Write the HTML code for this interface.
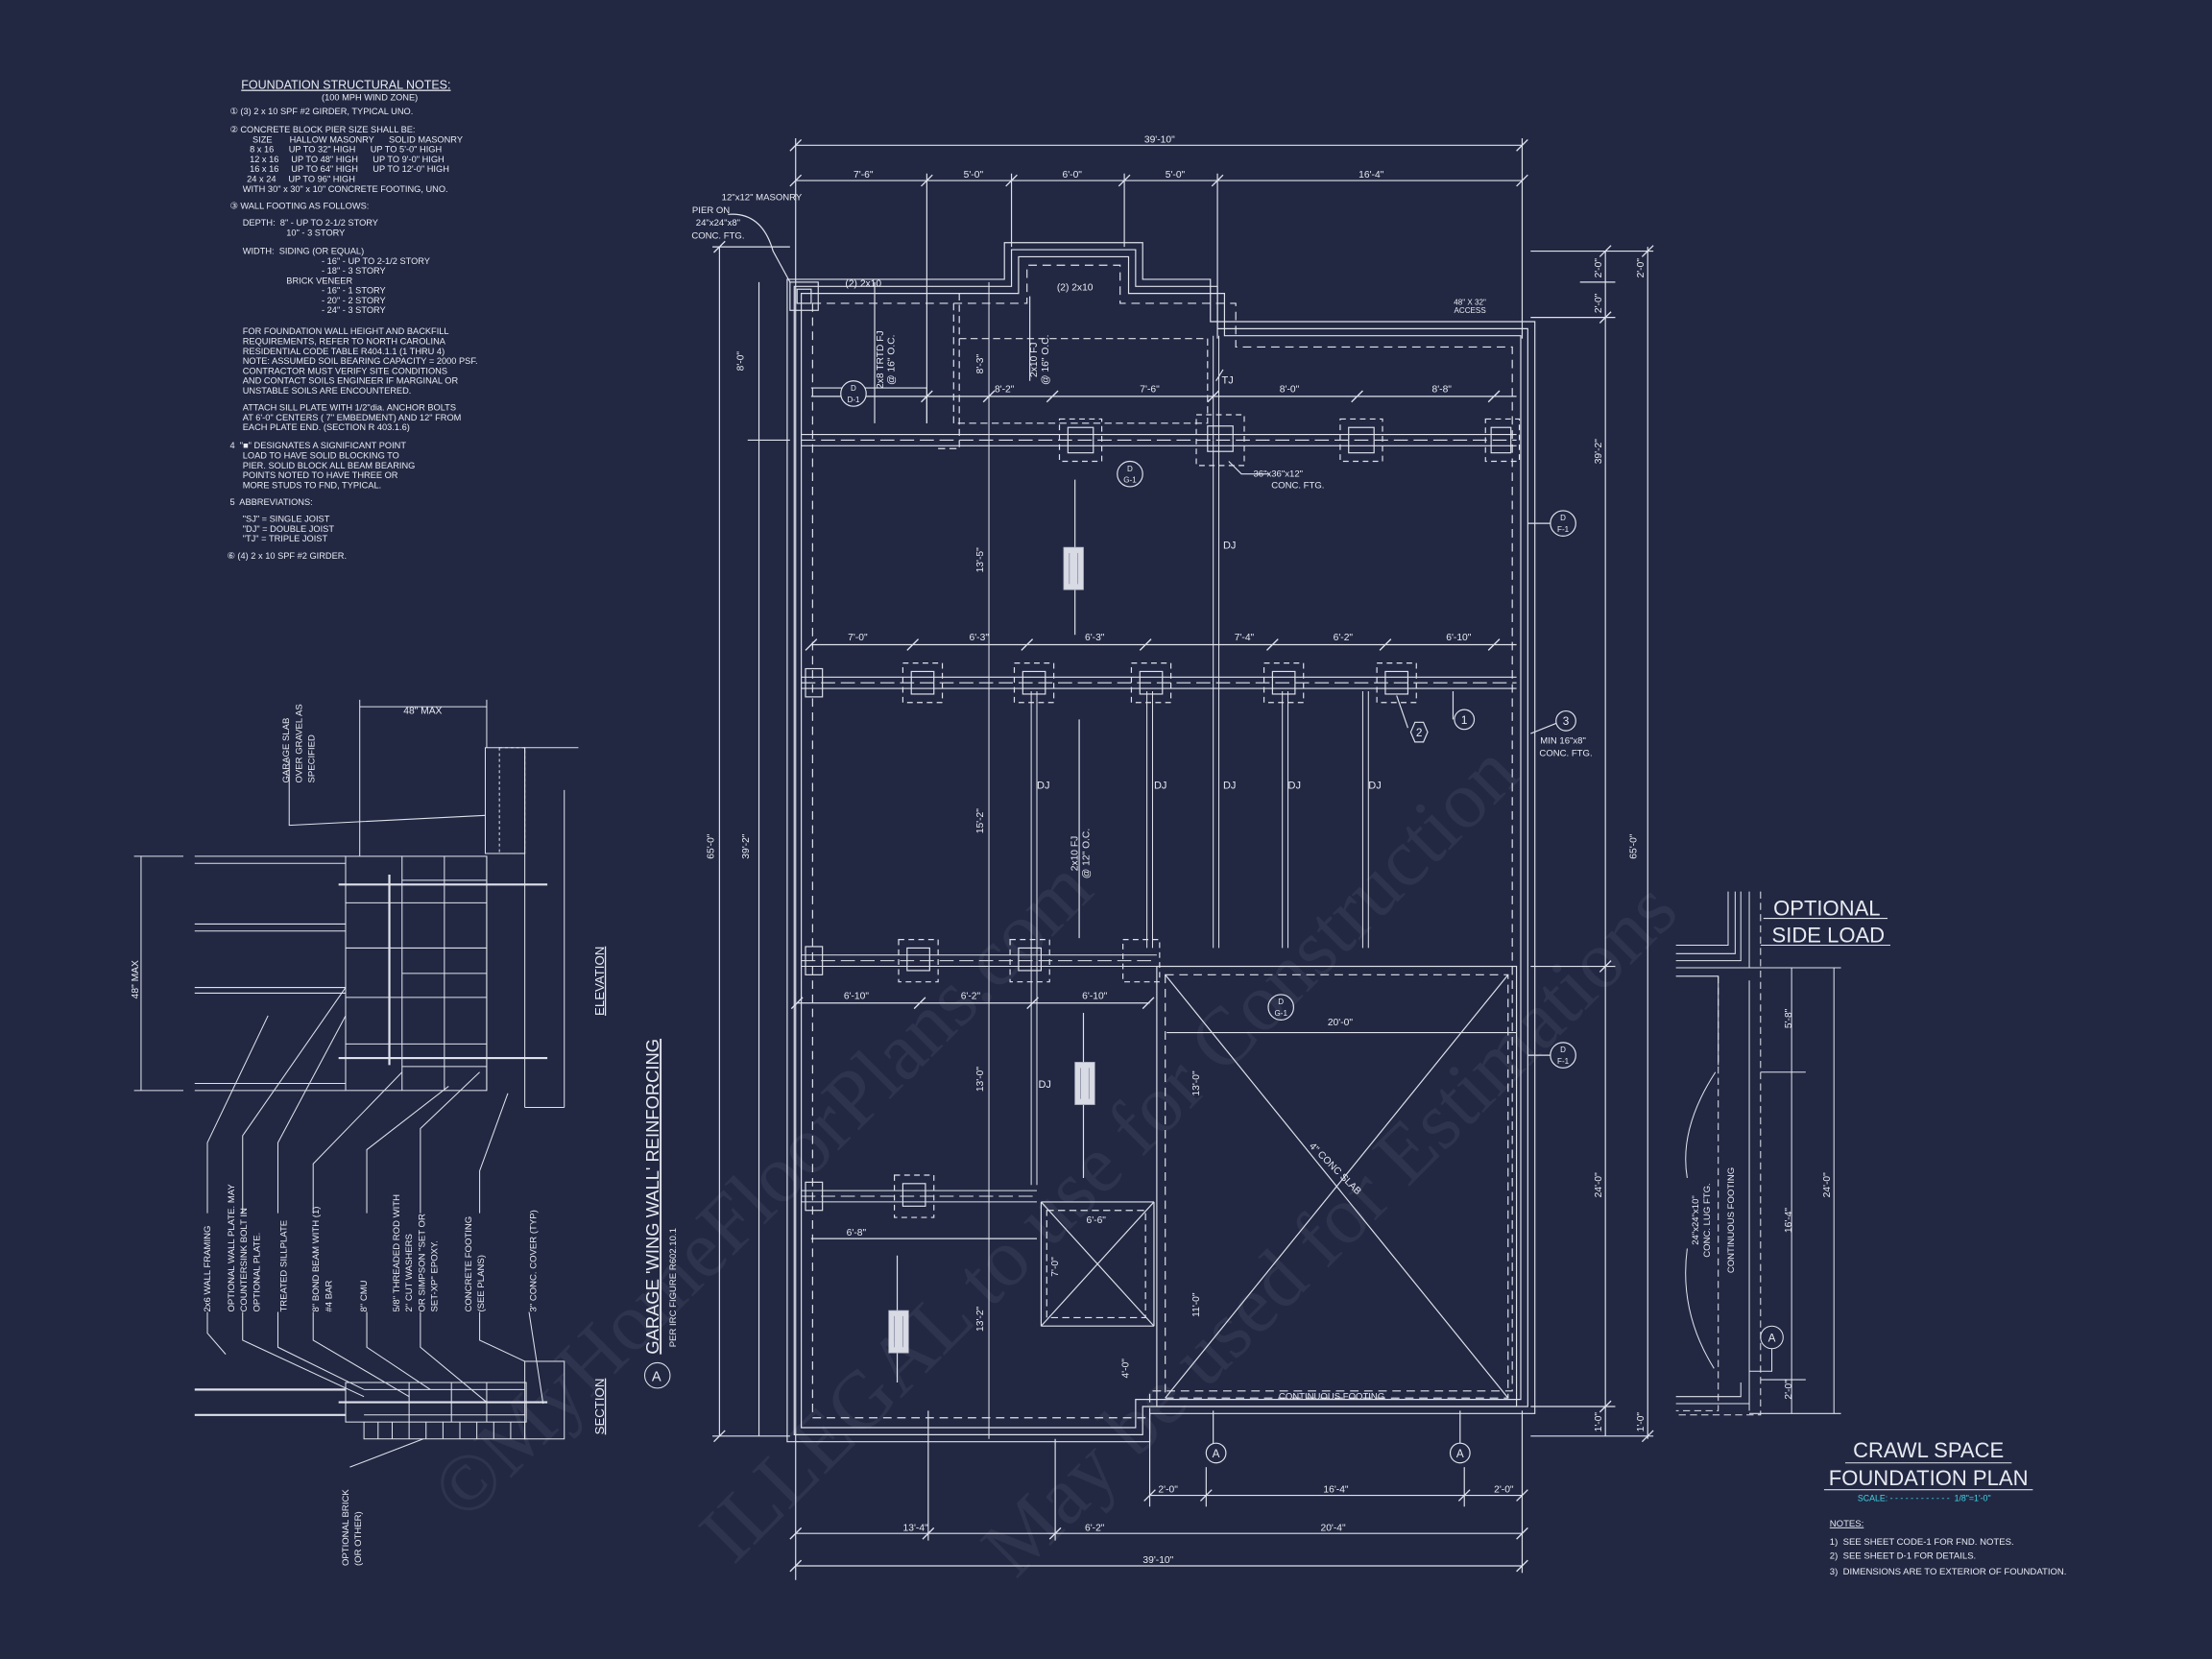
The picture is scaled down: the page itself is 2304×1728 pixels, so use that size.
<!DOCTYPE html>
<html><head><meta charset="utf-8"><style>
html,body{margin:0;padding:0;background:#222842;}
svg{display:block}
text{font-family:"Liberation Sans",sans-serif;fill:#e8eaf2;white-space:pre;}
</style></head><body>
<svg width="2304" height="1728" viewBox="0 0 1568 1176" xmlns="http://www.w3.org/2000/svg">
<rect width="1568" height="1176" fill="#222842"/>
<g stroke="#dfe2ec" fill="none" stroke-width="0.8">
<line x1="564" y1="103" x2="1079" y2="103"/>
<line x1="564" y1="98" x2="564" y2="1120"/><line x1="1079" y1="98" x2="1079" y2="240"/>
<line x1="564" y1="128" x2="1079" y2="128"/>
<line x1="657" y1="123" x2="657" y2="300"/><line x1="717" y1="123" x2="717" y2="175"/><line x1="797" y1="123" x2="797" y2="175"/><line x1="863" y1="123" x2="863" y2="240"/>
<line x1="1085" y1="178" x2="1172" y2="178"/><line x1="1138" y1="178" x2="1138" y2="1018"/><line x1="1168" y1="175" x2="1168" y2="1020"/>
<line x1="1120" y1="200" x2="1145" y2="200"/><line x1="1085" y1="225" x2="1145" y2="225"/><line x1="1085" y1="685" x2="1145" y2="685"/><line x1="1085" y1="997" x2="1145" y2="997"/><line x1="1085" y1="1018" x2="1172" y2="1018"/>
<line x1="510" y1="175" x2="510" y2="1018"/><line x1="538" y1="200" x2="538" y2="1018"/>
<line x1="505" y1="175" x2="560" y2="175"/><line x1="505" y1="1018" x2="560" y2="1018"/><line x1="530" y1="312" x2="560" y2="312"/>
<line x1="815" y1="1060" x2="1079" y2="1060"/><line x1="564" y1="1087" x2="1079" y2="1087"/><line x1="564" y1="1110" x2="1079" y2="1110"/>
<line x1="815" y1="1000" x2="815" y2="1068"/><line x1="855" y1="1040" x2="855" y2="1068"/><line x1="1038" y1="1040" x2="1038" y2="1068"/><line x1="1079" y1="1000" x2="1079" y2="1115"/>
<line x1="748" y1="1020" x2="748" y2="1092"/><line x1="658" y1="1000" x2="658" y2="1092"/>
<path d="M558 198 H712 V172 H810 V198 H858 V228 H1088 V1002 H815 V1022 H558 Z"/>
<path d="M563 203 H717 V177 H805 V203 H863 V233 H1083 V997 H810 V1017 H563 Z"/>
<path d="M568 208 H722 V182 H800 V208 H868 V238 H1078 V992 H805 V1012 H568 Z"/>
<path d="M576 215 H728 V188 H794 V215 H876 V246 H1072 V986 H815 V1005 H576 Z" stroke-dasharray="6 4"/>
<path d="M657 300 V275 H575" /><path d="M665 318 H680 V208" stroke-dasharray="5 3"/>
<path d="M676 215 V300 H856 V240 M680 240 H855" stroke-dasharray="5 3"/>
<rect x="560" y="200" width="20" height="20"/><rect x="565" y="205" width="10" height="10"/>
<g stroke-width="0.7">
<line x1="568" y1="308" x2="1075" y2="308"/><line x1="568" y1="316" x2="1075" y2="316"/><line x1="568" y1="312" x2="1075" y2="312" stroke-dasharray="10 4"/>
<line x1="568" y1="480" x2="1075" y2="480"/><line x1="568" y1="488" x2="1075" y2="488"/><line x1="568" y1="484" x2="1075" y2="484" stroke-dasharray="10 4"/>
<line x1="568" y1="677" x2="820" y2="677"/><line x1="568" y1="685" x2="820" y2="685"/><line x1="568" y1="681" x2="820" y2="681" stroke-dasharray="10 4"/>
<line x1="568" y1="844" x2="735" y2="844"/><line x1="568" y1="852" x2="735" y2="852"/><line x1="568" y1="848" x2="735" y2="848" stroke-dasharray="10 4"/>
</g>
<g>
<rect x="751" y="297" width="30" height="30" stroke-dasharray="4 3"/><rect x="757" y="303" width="18" height="18"/>
<rect x="848" y="294" width="34" height="36" stroke-dasharray="4 3"/><rect x="856" y="302" width="18" height="18"/>
<rect x="950" y="297" width="30" height="30" stroke-dasharray="4 3"/><rect x="956" y="303" width="18" height="18"/>
<rect x="1053" y="297" width="24" height="30" stroke-dasharray="4 3"/><rect x="1057" y="303" width="14" height="18"/>
<rect x="640" y="470" width="28" height="28" stroke-dasharray="4 3"/><rect x="646" y="476" width="16" height="16"/>
<rect x="719" y="470" width="28" height="28" stroke-dasharray="4 3"/><rect x="725" y="476" width="16" height="16"/>
<rect x="802" y="470" width="28" height="28" stroke-dasharray="4 3"/><rect x="808" y="476" width="16" height="16"/>
<rect x="896" y="470" width="28" height="28" stroke-dasharray="4 3"/><rect x="902" y="476" width="16" height="16"/>
<rect x="976" y="470" width="28" height="28" stroke-dasharray="4 3"/><rect x="982" y="476" width="16" height="16"/>
<rect x="571" y="474" width="12" height="20"/>
<rect x="637" y="666" width="28" height="30" stroke-dasharray="4 3"/><rect x="643" y="672" width="16" height="16"/>
<rect x="716" y="666" width="28" height="30" stroke-dasharray="4 3"/><rect x="722" y="672" width="16" height="16"/>
<rect x="796" y="666" width="26" height="30" stroke-dasharray="4 3"/>
<rect x="634" y="833" width="28" height="30" stroke-dasharray="4 3"/><rect x="640" y="839" width="16" height="16"/>
<rect x="571" y="671" width="12" height="20"/><rect x="571" y="838" width="12" height="20"/>
</g>
<g stroke-width="0.7">
<line x1="860" y1="238" x2="860" y2="672"/><line x1="864" y1="238" x2="864" y2="672"/>
<line x1="731" y1="490" x2="731" y2="840"/><line x1="735" y1="490" x2="735" y2="840"/>
<line x1="813" y1="490" x2="813" y2="672"/><line x1="817" y1="490" x2="817" y2="672"/>
<line x1="909" y1="490" x2="909" y2="672"/><line x1="913" y1="490" x2="913" y2="672"/>
<line x1="966" y1="490" x2="966" y2="672"/><line x1="970" y1="490" x2="970" y2="672"/>
<line x1="701" y1="200" x2="701" y2="1020"/>
</g>
<line x1="575" y1="281" x2="1075" y2="281"/><line x1="575" y1="457" x2="1075" y2="457"/><line x1="565" y1="711" x2="815" y2="711"/><line x1="575" y1="878" x2="735" y2="878"/>
<line x1="827" y1="732" x2="1075" y2="732"/>
<line x1="762" y1="340" x2="762" y2="450"/><line x1="765" y1="510" x2="765" y2="665"/><line x1="768" y1="718" x2="768" y2="835"/><line x1="636" y1="890" x2="636" y2="980"/>
<line x1="620" y1="200" x2="620" y2="300"/><line x1="730" y1="210" x2="730" y2="270"/>
<rect x="820" y="685" width="255" height="312"/><rect x="826" y="691" width="243" height="300" stroke-dasharray="6 4"/>
<line x1="826" y1="691" x2="1069" y2="991"/><line x1="1069" y1="691" x2="826" y2="991"/>
<line x1="738" y1="852" x2="818" y2="852"/><line x1="738" y1="852" x2="738" y2="940"/><line x1="818" y1="852" x2="818" y2="940"/>
<line x1="738" y1="940" x2="818" y2="940"/><line x1="738" y1="852" x2="818" y2="940"/><line x1="818" y1="852" x2="738" y2="940"/>
<rect x="742" y="858" width="70" height="76" stroke-dasharray="5 3"/>
<path d="M516 152 Q540 150 548 178 L560 200"/>
<line x1="1083" y1="371" x2="1100" y2="371"/><line x1="1083" y1="748" x2="1100" y2="748"/>
<path d="M871 327 L880 336 H900"/><path d="M862 270 L867 262"/>
<path d="M1030 490 L1030 510"/><path d="M990 493 L998 516"/><path d="M1085 520 L1105 512"/>
<line x1="860" y1="1030" x2="860" y2="1000"/><line x1="1035" y1="1030" x2="1035" y2="1000"/>
</g>
<g stroke="#dfe2ec" stroke-width="0.9">
<path d="M560 107 l8 -8 M1075 107 l8 -8 M560 132 l8 -8 M653 132 l8 -8 M713 132 l8 -8 M793 132 l8 -8 M859 132 l8 -8 M1075 132 l8 -8"/>
<path d="M653 285 l8 -8 M697 285 l8 -8 M742 285 l8 -8 M856 285 l8 -8 M958 285 l8 -8 M1055 285 l8 -8"/>
<path d="M571 461 l8 -8 M643 461 l8 -8 M724 461 l8 -8 M808 461 l8 -8 M898 461 l8 -8 M978 461 l8 -8 M1055 461 l8 -8"/>
<path d="M561 715 l8 -8 M648 715 l8 -8 M728 715 l8 -8 M810 715 l8 -8"/>
<path d="M811 1064 l8 -8 M851 1064 l8 -8 M1034 1064 l8 -8 M1075 1064 l8 -8 M560 1091 l8 -8 M654 1091 l8 -8 M744 1091 l8 -8 M1075 1091 l8 -8 M560 1114 l8 -8 M1075 1114 l8 -8"/>
<path d="M506 179 l8 -8 M506 1022 l8 -8 M1134 182 l8 -8 M1164 182 l8 -8 M1134 229 l8 -8 M1134 689 l8 -8 M1134 1001 l8 -8 M1164 1022 l8 -8"/>
</g>
<g fill="#d8dae4" stroke="#b0b4c4" stroke-width="0.5">
<rect x="754" y="388" width="14" height="30"/><rect x="762" y="753" width="14" height="30"/><rect x="630" y="929" width="14" height="30"/>
</g>
<g stroke="#9094a8" stroke-width="0.6">
<line x1="758" y1="392" x2="758" y2="414"/><line x1="764" y1="392" x2="764" y2="414"/>
<line x1="766" y1="757" x2="766" y2="779"/><line x1="772" y1="757" x2="772" y2="779"/>
<line x1="634" y1="933" x2="634" y2="955"/><line x1="640" y1="933" x2="640" y2="955"/>
</g>
<g stroke="#dfe2ec" fill="#222842" stroke-width="0.8">
<circle cx="605" cy="279" r="9"/><circle cx="801" cy="336" r="9"/><circle cx="908" cy="714" r="9"/><circle cx="1108" cy="371" r="9"/><circle cx="1108" cy="748" r="9"/>
<circle cx="862" cy="1030" r="7"/><circle cx="1035" cy="1030" r="7"/>
<polygon points="1003,512 1009,512 1012,519 1009,526 1003,526 1000,519"/><circle cx="1038" cy="510" r="7"/><circle cx="1110" cy="511" r="7"/>
</g>
<g font-size="5.5" text-anchor="middle">
<text x="605" y="277">D</text><text x="605" y="285">D-1</text><text x="801" y="334">D</text><text x="801" y="342">G-1</text>
<text x="908" y="712">D</text><text x="908" y="720">G-1</text><text x="1108" y="369">D</text><text x="1108" y="377">F-1</text>
<text x="1108" y="746">D</text><text x="1108" y="754">F-1</text></g>
<g font-size="8" text-anchor="middle">
<text x="862" y="1033">A</text><text x="1035" y="1033">A</text><text x="1006" y="522">2</text><text x="1038" y="513">1</text><text x="1110" y="514">3</text></g>
<g font-size="7" text-anchor="middle">
<text x="822" y="101">39'-10"</text>
<text x="612" y="126">7'-6"</text><text x="690" y="126">5'-0"</text><text x="760" y="126">6'-0"</text><text x="833" y="126">5'-0"</text><text x="972" y="126">16'-4"</text>
<text x="712" y="278">8'-2"</text><text x="815" y="278">7'-6"</text><text x="914" y="278">8'-0"</text><text x="1022" y="278">8'-8"</text>
<text x="608" y="454">7'-0"</text><text x="694" y="454">6'-3"</text><text x="776" y="454">6'-3"</text><text x="882" y="454">7'-4"</text><text x="952" y="454">6'-2"</text><text x="1034" y="454">6'-10"</text>
<text x="607" y="708">6'-10"</text><text x="688" y="708">6'-2"</text><text x="776" y="708">6'-10"</text><text x="607" y="876">6'-8"</text>
<text x="950" y="727">20'-0"</text><text x="777" y="867">6'-6"</text>
<text x="828" y="1058">2'-0"</text><text x="947" y="1058">16'-4"</text><text x="1066" y="1058">2'-0"</text>
<text x="649" y="1085">13'-4"</text><text x="776" y="1085">6'-2"</text><text x="945" y="1085">20'-4"</text><text x="821" y="1108">39'-10"</text>
<text x="612" y="203">(2) 2x10</text><text x="762" y="206">(2) 2x10</text>
<text x="1042" y="216" font-size="5.5">48" X 32"</text><text x="1042" y="222" font-size="5.5">ACCESS</text>
<text x="944" y="992" font-size="6.5">CONTINUOUS FOOTING</text>
<text x="906" y="338" font-size="6.5">36"x36"x12"</text><text x="920" y="346" font-size="6.5">CONC. FTG.</text>
<text x="540" y="142" font-size="6.5">12"x12" MASONRY</text><text x="504" y="151" font-size="6.5">PIER ON</text><text x="509" y="160" font-size="6.5">24"x24"x8"</text><text x="509" y="169" font-size="6.5">CONC. FTG.</text>
<text x="1108" y="527" font-size="6.5">MIN 16"x8"</text><text x="1110" y="536" font-size="6.5">CONC. FTG.</text>
</g>
<g font-size="7.5">
<text x="867" y="389">DJ</text><text x="735" y="559">DJ</text><text x="818" y="559">DJ</text><text x="867" y="559">DJ</text><text x="913" y="559">DJ</text><text x="970" y="559">DJ</text><text x="736" y="771">DJ</text><text x="866" y="272">TJ</text>
</g>
<g font-size="7" text-anchor="middle">
<text transform="translate(697,397) rotate(-90)">13'-5"</text><text transform="translate(697,582) rotate(-90)">15'-2"</text>
<text transform="translate(697,765) rotate(-90)">13'-0"</text><text transform="translate(697,935) rotate(-90)">13'-2"</text>
<text transform="translate(697,258) rotate(-90)">8'-3"</text><text transform="translate(527,256) rotate(-90)">8'-0"</text>
<text transform="translate(506,600) rotate(-90)">65'-0"</text><text transform="translate(531,600) rotate(-90)">39'-2"</text>
<text transform="translate(1135,320) rotate(-90)">39'-2"</text><text transform="translate(1160,600) rotate(-90)">65'-0"</text>
<text transform="translate(1135,190) rotate(-90)">2'-0"</text><text transform="translate(1135,215) rotate(-90)">2'-0"</text>
<text transform="translate(1135,840) rotate(-90)">24'-0"</text><text transform="translate(1135,1008) rotate(-90)">1'-0"</text>
<text transform="translate(1165,190) rotate(-90)">2'-0"</text><text transform="translate(1165,1008) rotate(-90)">1'-0"</text>
<text transform="translate(850,768) rotate(-90)">13'-0"</text><text transform="translate(850,925) rotate(-90)">11'-0"</text><text transform="translate(800,970) rotate(-90)">4'-0"</text>
<text transform="translate(750,898) rotate(-90)">7'-0"</text>
<text transform="translate(626,255) rotate(-90)">2x8 TRTD FJ</text><text transform="translate(634,255) rotate(-90)">@ 16" O.C.</text>
<text transform="translate(735,255) rotate(-90)">2x10 FJ</text><text transform="translate(743,255) rotate(-90)">@ 16" O.C.</text>
<text transform="translate(764,605) rotate(-90)">2x10 FJ</text><text transform="translate(772,605) rotate(-90)">@ 12" O.C.</text>
<text transform="translate(945,830) rotate(45)">4" CONC SLAB</text>
</g>
<g font-size="6.3">
<text x="171" y="63" font-size="8.5" text-decoration="underline">FOUNDATION STRUCTURAL NOTES:</text>
<text x="228" y="71">(100 MPH WIND ZONE)</text>
<text x="163" y="81">① (3) 2 x 10 SPF #2 GIRDER, TYPICAL UNO.</text>
<text x="163" y="94">② CONCRETE BLOCK PIER SIZE SHALL BE:</text>
<text x="179" y="101">SIZE       HALLOW MASONRY      SOLID MASONRY</text>
<text x="177" y="108">8 x 16      UP TO 32" HIGH      UP TO 5'-0" HIGH</text>
<text x="177" y="115">12 x 16     UP TO 48" HIGH      UP TO 9'-0" HIGH</text>
<text x="177" y="122">16 x 16     UP TO 64" HIGH      UP TO 12'-0" HIGH</text>
<text x="175" y="129">24 x 24     UP TO 96" HIGH</text>
<text x="172" y="136">WITH 30" x 30" x 10" CONCRETE FOOTING, UNO.</text>
<text x="163" y="148">③ WALL FOOTING AS FOLLOWS:</text>
<text x="172" y="160">DEPTH:  8" - UP TO 2-1/2 STORY</text><text x="203" y="167">10" - 3 STORY</text>
<text x="172" y="180">WIDTH:  SIDING (OR EQUAL)</text><text x="228" y="187">- 16" - UP TO 2-1/2 STORY</text><text x="228" y="194">- 18" - 3 STORY</text>
<text x="203" y="201">BRICK VENEER</text><text x="228" y="208">- 16" - 1 STORY</text><text x="228" y="215">- 20" - 2 STORY</text><text x="228" y="222">- 24" - 3 STORY</text>
<text x="172" y="237">FOR FOUNDATION WALL HEIGHT AND BACKFILL</text>
<text x="172" y="244">REQUIREMENTS, REFER TO NORTH CAROLINA</text>
<text x="172" y="251">RESIDENTIAL CODE TABLE R404.1.1 (1 THRU 4)</text>
<text x="172" y="258">NOTE: ASSUMED SOIL BEARING CAPACITY = 2000 PSF.</text>
<text x="172" y="265">CONTRACTOR MUST VERIFY SITE CONDITIONS</text>
<text x="172" y="272">AND CONTACT SOILS ENGINEER IF MARGINAL OR</text>
<text x="172" y="279">UNSTABLE SOILS ARE ENCOUNTERED.</text>
<text x="172" y="291">ATTACH SILL PLATE WITH 1/2"dia. ANCHOR BOLTS</text>
<text x="172" y="298">AT 6'-0" CENTERS ( 7" EMBEDMENT) AND 12" FROM</text>
<text x="172" y="305">EACH PLATE END. (SECTION R 403.1.6)</text>
<text x="163" y="318">4  "■" DESIGNATES A SIGNIFICANT POINT</text>
<text x="172" y="325">LOAD TO HAVE SOLID BLOCKING TO</text>
<text x="172" y="332">PIER. SOLID BLOCK ALL BEAM BEARING</text>
<text x="172" y="339">POINTS NOTED TO HAVE THREE OR</text>
<text x="172" y="346">MORE STUDS TO FND, TYPICAL.</text>
<text x="163" y="358">5  ABBREVIATIONS:</text>
<text x="172" y="370">"SJ" = SINGLE JOIST</text><text x="172" y="377">"DJ" = DOUBLE JOIST</text><text x="172" y="384">"TJ" = TRIPLE JOIST</text>
<text x="161" y="396">⑥ (4) 2 x 10 SPF #2 GIRDER.</text>
</g>
<g stroke="#dfe2ec" fill="none" stroke-width="0.7">
<line x1="255" y1="501" x2="345" y2="501"/><line x1="255" y1="496" x2="255" y2="607"/><line x1="345" y1="496" x2="345" y2="530"/>
<rect x="344" y="530" width="28" height="75"/><rect x="354" y="530" width="18" height="75" stroke-dasharray="2 2"/>
<line x1="372" y1="530" x2="410" y2="530"/><line x1="372" y1="530" x2="372" y2="785"/><line x1="400" y1="560" x2="400" y2="785"/><line x1="372" y1="785" x2="400" y2="785"/>
<rect x="245" y="607" width="100" height="166"/>
<line x1="285" y1="607" x2="285" y2="773"/><line x1="315" y1="607" x2="315" y2="773"/><line x1="345" y1="607" x2="345" y2="773"/>
<path d="M245 640 H345 M245 672 H345 M245 707 H345 M245 740 H345 M285 624 H345 M285 690 H345 M285 756 H345"/>
<line x1="138" y1="607" x2="245" y2="607"/><line x1="138" y1="612" x2="245" y2="612"/>
<line x1="138" y1="655" x2="245" y2="655"/><line x1="138" y1="660" x2="245" y2="660"/>
<line x1="138" y1="700" x2="245" y2="700"/><line x1="138" y1="704" x2="245" y2="704"/>
<line x1="138" y1="768" x2="245" y2="768"/><line x1="138" y1="773" x2="245" y2="773"/>
<line x1="100" y1="607" x2="100" y2="773"/><line x1="95" y1="607" x2="130" y2="607"/><line x1="95" y1="773" x2="130" y2="773"/>
<line x1="240" y1="627" x2="388" y2="627" stroke-width="1.5"/><line x1="240" y1="750" x2="388" y2="750" stroke-width="1.5"/>
<line x1="276" y1="620" x2="276" y2="755" stroke-width="1.5"/>
<path d="M205 538 V585 L344 578"/>
<path d="M147 860 V810 L190 720"/><path d="M172 860 V805 L245 700"/><path d="M197 860 V810 L245 720"/><path d="M222 860 V825 L285 760"/>
<path d="M260 860 V815 L318 770"/><path d="M298 860 V800 L340 760"/><path d="M340 860 V830 L360 775"/>
<line x1="138" y1="985" x2="245" y2="985" stroke-width="1.5"/><line x1="138" y1="1003" x2="245" y2="1003" stroke-width="1.5"/>
<rect x="245" y="980" width="128" height="28"/><path d="M258 985 H372 M258 1003 H372 M290 980 V1008 M320 980 V1008 M345 980 V1008"/>
<path d="M258 1008 V1020 H372 V1008 M268 1008 V1020 M278 1008 V1020 M290 1008 V1020 M302 1008 V1020 M314 1008 V1020 M326 1008 V1020 M338 1008 V1020 M350 1008 V1020 M362 1008 V1020"/>
<rect x="372" y="965" width="28" height="55"/><line x1="240" y1="994" x2="388" y2="994" stroke-width="1.5"/>
<path d="M147 930 V945 L160 960 M172 930 V950 L258 990 M197 930 V955 L258 985 M222 930 V950 L290 990 M260 930 V955 L305 985 M298 930 V955 L345 994 M340 930 V950 L372 965 M375 930 L385 995 M248 1040 L300 1020"/>
<circle cx="466" cy="975" r="9"/>
</g>
<g font-size="6.5">
<text transform="translate(286,506)" font-size="7">48" MAX</text>
<text transform="translate(205,555) rotate(-90)">GARAGE SLAB</text><text transform="translate(214,555) rotate(-90)">OVER GRAVEL AS</text><text transform="translate(223,555) rotate(-90)">SPECIFIED</text>
<text transform="translate(98,708) rotate(-90)" font-size="7">48" MAX</text>
<text transform="translate(149,930) rotate(-90)">2x6 WALL FRAMING</text>
<text transform="translate(166,930) rotate(-90)">OPTIONAL WALL PLATE. MAY</text><text transform="translate(175,930) rotate(-90)">COUNTERSINK BOLT IN</text><text transform="translate(184,930) rotate(-90)">OPTIONAL PLATE.</text>
<text transform="translate(203,930) rotate(-90)">TREATED SILLPLATE</text>
<text transform="translate(226,930) rotate(-90)">8" BOND BEAM WITH (1)</text><text transform="translate(235,930) rotate(-90)">#4 BAR</text>
<text transform="translate(260,930) rotate(-90)">8" CMU</text>
<text transform="translate(283,930) rotate(-90)">5/8" THREADED ROD WITH</text><text transform="translate(292,930) rotate(-90)">2" CUT WASHERS</text><text transform="translate(301,930) rotate(-90)">OR SIMPSON "SET OR</text><text transform="translate(310,930) rotate(-90)">SET-XP" EPOXY.</text>
<text transform="translate(334,930) rotate(-90)">CONCRETE FOOTING</text><text transform="translate(343,930) rotate(-90)">(SEE PLANS)</text>
<text transform="translate(380,930) rotate(-90)">3" CONC. COVER (TYP)</text>
<text transform="translate(247,1110) rotate(-90)">OPTIONAL BRICK</text><text transform="translate(256,1110) rotate(-90)">(OR OTHER)</text>
<text transform="translate(428,720) rotate(-90)" font-size="9" text-decoration="underline">ELEVATION</text>
<text transform="translate(428,1017) rotate(-90)" font-size="9" text-decoration="underline">SECTION</text>
<text transform="translate(467,960) rotate(-90)" font-size="12.5" text-decoration="underline">GARAGE 'WING WALL' REINFORCING</text>
<text transform="translate(479,955) rotate(-90)" font-size="6.5">PER IRC FIGURE R602.10.1</text>
<text x="462" y="979" font-size="10">A</text>
</g>
<g stroke="#dfe2ec" fill="none" stroke-width="0.7">
<path d="M1188 670 H1225 V632 M1188 676 H1230 V632 M1188 681 H1234 V632"/>
<path d="M1188 686 H1240 V632 M1188 692 H1218 V755 M1240 695 V1000 M1188 990 H1234 V980 M1188 995 H1240"/>
<path d="M1218 692 V1000 H1188 M1248 632 V1003 H1188" stroke-dasharray="5 3"/>
<line x1="1240" y1="686" x2="1305" y2="686"/><line x1="1240" y1="1002" x2="1305" y2="1002"/>
<line x1="1270" y1="686" x2="1270" y2="1002"/><line x1="1300" y1="686" x2="1300" y2="1002"/><line x1="1248" y1="760" x2="1280" y2="760"/><line x1="1248" y1="978" x2="1280" y2="978"/>
<path d="M1216 760 Q1190 800 1196 835 M1196 885 Q1190 930 1215 970"/>
<circle cx="1256" cy="948" r="8"/><path d="M1256 956 V972 H1240"/>
<line x1="1250" y1="651" x2="1338" y2="651"/><line x1="1248" y1="670" x2="1340" y2="670"/>
</g>
<g font-size="7" text-anchor="middle">
<text x="1295" y="649" font-size="15">OPTIONAL</text><text x="1296" y="668" font-size="15">SIDE LOAD</text>
<text transform="translate(1270,722) rotate(-90)">5'-8"</text><text transform="translate(1270,865) rotate(-90)">16'-4"</text>
<text transform="translate(1297,840) rotate(-90)">24'-0"</text><text transform="translate(1270,985) rotate(-90)">2'-0"</text>
<text transform="translate(1229,865) rotate(-90)" font-size="6.5">CONTINUOUS FOOTING</text>
<text transform="translate(1204,865) rotate(-90)" font-size="6.5">24"x24"x10"</text><text transform="translate(1212,865) rotate(-90)" font-size="6.5">CONC. LUG FTG.</text>
<text x="1256" y="951" font-size="8">A</text>
</g>
<g text-anchor="middle">
<text x="1367" y="1033" font-size="15">CRAWL SPACE</text><text x="1367" y="1053" font-size="15">FOUNDATION PLAN</text>
<text x="1364" y="1064" font-size="6" style="fill:#3fd6e8">SCALE: - - - - - - - - - - - -  1/8"=1'-0"</text>
</g>
<line x1="1308" y1="1037" x2="1426" y2="1037" stroke="#dfe2ec" stroke-width="0.7"/><line x1="1293" y1="1056" x2="1441" y2="1056" stroke="#dfe2ec" stroke-width="0.7"/>
<g font-size="6.5">
<text x="1297" y="1082" text-decoration="underline">NOTES:</text>
<text x="1297" y="1095">1)  SEE SHEET CODE-1 FOR FND. NOTES.</text>
<text x="1297" y="1105">2)  SEE SHEET D-1 FOR DETAILS.</text>
<text x="1297" y="1116">3)  DIMENSIONS ARE TO EXTERIOR OF FOUNDATION.</text>
</g>
<g font-size="58" style="fill:#ffffff" opacity="0.06">
<text transform="translate(330,1080) rotate(-45)" style="font-family:'Liberation Serif',serif">©MyHomeFloorPlans.com</text>
<text transform="translate(520,1110) rotate(-45)" style="font-family:'Liberation Serif',serif">ILLEGAL to use for Construction</text>
<text transform="translate(720,1120) rotate(-45)" style="font-family:'Liberation Serif',serif">May be used for Estimations</text>
</g>
</svg>
</body></html>
